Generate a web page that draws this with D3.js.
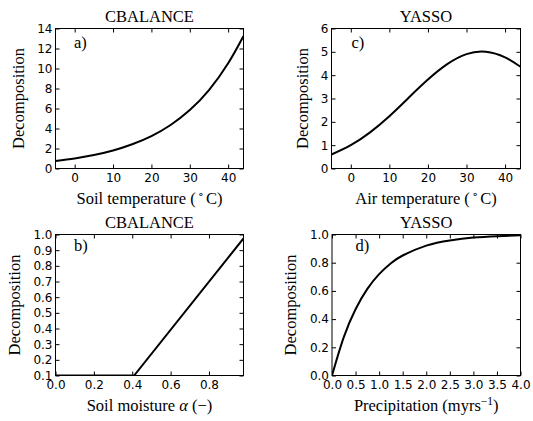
<!DOCTYPE html>
<html>
<head>
<meta charset="utf-8">
<script src="https://cdn.jsdelivr.net/npm/d3@7"></script>
<style>
  body { margin: 0; background: #fff; }
  svg { display: block; }
  .tick text { font-family: "DejaVu Sans", sans-serif; font-size: 12px; fill: #000; }
  .tick line { stroke: #000; }
  .serif { font-family: "Liberation Serif", "DejaVu Serif", serif; fill: #000; }
</style>
</head>
<body>
<svg id="chart" width="533" height="421"></svg>
<script>
// ---- data ----
// a) CBALANCE, soil temperature response
const soilTemp = [-5, 0, 5, 10, 15, 20, 25, 30, 35, 40, 44];
const soilTempDecomp = [0.745, 1.0, 1.342, 1.80, 2.42, 3.24, 4.35, 5.84, 7.84, 10.52, 13.25];
// c) YASSO, air temperature response
const airTemp = [-5, 0, 5, 10, 15, 20, 25, 30, 35, 40, 44];
const airTempDecomp = [0.60, 1.0, 1.55, 2.24, 3.03, 3.81, 4.47, 4.90, 5.00, 4.76, 4.36];
// b) CBALANCE, soil moisture response
const soilMoist = [0, 0.41, 0.98];
const soilMoistDecomp = [0.1, 0.1, 0.975];
// d) YASSO, precipitation response
const precip = [0, 0.25, 0.5, 0.75, 1.0, 1.25, 1.5, 2.0, 2.5, 3.0, 3.5, 4.0];
const precipDecomp = [0, 0.272, 0.470, 0.614, 0.719, 0.796, 0.851, 0.921, 0.958, 0.978, 0.988, 0.994];

// tick values
const tempTicks = [0, 10, 20, 30, 40];
const soilTempYTicks = [0, 2, 4, 6, 8, 10, 12, 14];
const airTempYTicks = [0, 1, 2, 3, 4, 5, 6];
const moistXTicks = [0, 0.2, 0.4, 0.6, 0.8];
const moistYTicks = [0.1, 0.2, 0.3, 0.4, 0.5, 0.6, 0.7, 0.8, 0.9, 1.0];
const precipXTicks = [0, 0.5, 1.0, 1.5, 2.0, 2.5, 3.0, 3.5, 4.0];
const precipYTicks = [0, 0.2, 0.4, 0.6, 0.8, 1.0];

const svg = d3.select("#chart");
svg.append("rect").attr("width", 533).attr("height", 421).attr("fill", "#fff");

const serifSize = 16.5;

const panels = [
  { id: "a", title: "CBALANCE", tag: "a)", xs: soilTemp, ys: soilTempDecomp,
    xDomain: [-5, 44], yDomain: [0, 14], xTicks: tempTicks, yTicks: soilTempYTicks,
    xFmt: d3.format("d"), yFmt: d3.format("d"), curve: d3.curveNatural,
    left: 55.5, right: 243.5, top: 28.5, bottom: 168.5, ylabDx: -32, tagDx: 18.5, tagDy: 19,
    xlabel: t => { t.text("Soil temperature ("); t.append("tspan").attr("baseline-shift", "super").attr("font-size", "70%").text("\u2009\u2218\u2009"); t.append("tspan").text("C)"); } },
  { id: "c", title: "YASSO", tag: "c)", xs: airTemp, ys: airTempDecomp,
    xDomain: [-5, 44], yDomain: [0, 6], xTicks: tempTicks, yTicks: airTempYTicks,
    xFmt: d3.format("d"), yFmt: d3.format("d"), curve: d3.curveNatural,
    left: 331.5, right: 520.5, top: 28.5, bottom: 168.5, ylabDx: -24, tagDx: 20, tagDy: 19,
    xlabel: t => { t.text("Air temperature ("); t.append("tspan").attr("baseline-shift", "super").attr("font-size", "70%").text("\u2009\u2218\u2009"); t.append("tspan").text("C)"); } },
  { id: "b", title: "CBALANCE", tag: "b)", xs: soilMoist, ys: soilMoistDecomp,
    xDomain: [0, 0.98], yDomain: [0.1, 1.0], xTicks: moistXTicks, yTicks: moistYTicks,
    xFmt: d3.format(".1f"), yFmt: d3.format(".1f"), curve: d3.curveLinear,
    left: 55.5, right: 243.5, top: 234.5, bottom: 375.5, ylabDx: -35.5, tagDx: 18.5, tagDy: 16,
    xlabel: t => { t.text("Soil moisture "); t.append("tspan").attr("font-style", "italic").text("\u03b1"); t.append("tspan").text(" (\u2212)"); } },
  { id: "d", title: "YASSO", tag: "d)", xs: precip, ys: precipDecomp,
    xDomain: [0, 4], yDomain: [0, 1], xTicks: precipXTicks, yTicks: precipYTicks,
    xFmt: d3.format(".1f"), yFmt: d3.format(".1f"), curve: d3.curveNatural,
    left: 332, right: 520.5, top: 234.5, bottom: 375.5, ylabDx: -36.5, tagDx: 23.5, tagDy: 16,
    xlabel: t => { t.text("Precipitation (myrs"); t.append("tspan").attr("baseline-shift", "super").attr("font-size", "70%").text("\u22121"); t.append("tspan").text(")"); } }
];

panels.forEach(p => {
  const w = p.right - p.left, h = p.bottom - p.top;
  const x = d3.scaleLinear().domain(p.xDomain).range([0, w]);
  const y = d3.scaleLinear().domain(p.yDomain).range([h, 0]);
  const g = svg.append("g").attr("transform", `translate(${p.left},${p.top})`);

  g.append("clipPath").attr("id", "clip-" + p.id)
    .append("rect").attr("width", w).attr("height", h);

  // ticks on all four sides, pointing inward
  g.append("g").attr("transform", `translate(0,${h})`)
    .call(d3.axisBottom(x).tickValues(p.xTicks).tickFormat(p.xFmt).tickSizeInner(-4).tickSizeOuter(0).tickPadding(5));
  g.append("g")
    .call(d3.axisTop(x).tickValues(p.xTicks).tickFormat("").tickSizeInner(-4).tickSizeOuter(0));
  g.append("g")
    .call(d3.axisLeft(y).tickValues(p.yTicks).tickFormat(p.yFmt).tickSizeInner(-4).tickSizeOuter(0).tickPadding(3));
  g.append("g").attr("transform", `translate(${w},0)`)
    .call(d3.axisRight(y).tickValues(p.yTicks).tickFormat("").tickSizeInner(-4).tickSizeOuter(0));
  g.selectAll(".domain").remove();

  const line = d3.line().x((d, i) => x(p.xs[i])).y(d => y(d)).curve(p.curve);
  g.append("path").datum(p.ys)
    .attr("clip-path", `url(#clip-${p.id})`)
    .attr("fill", "none").attr("stroke", "#000").attr("stroke-width", 2)
    .attr("d", line);

  g.append("rect").attr("width", w).attr("height", h)
    .attr("fill", "none").attr("stroke", "#000").attr("stroke-width", 1);

  g.append("text").attr("class", "serif").attr("x", p.tagDx).attr("y", p.tagDy)
    .attr("font-size", serifSize).text(p.tag);

  g.append("text").attr("class", "serif").attr("x", w / 2).attr("y", -7)
    .attr("text-anchor", "middle").attr("font-size", serifSize).text(p.title);

  const xl = g.append("text").attr("class", "serif").attr("x", w / 2).attr("y", h + 35)
    .attr("text-anchor", "middle").attr("font-size", serifSize);
  p.xlabel(xl);

  g.append("text").attr("class", "serif")
    .attr("transform", `translate(${p.ylabDx},${h / 2}) rotate(-90)`)
    .attr("text-anchor", "middle").attr("font-size", serifSize).text("Decomposition");
});
</script>
</body>
</html>
